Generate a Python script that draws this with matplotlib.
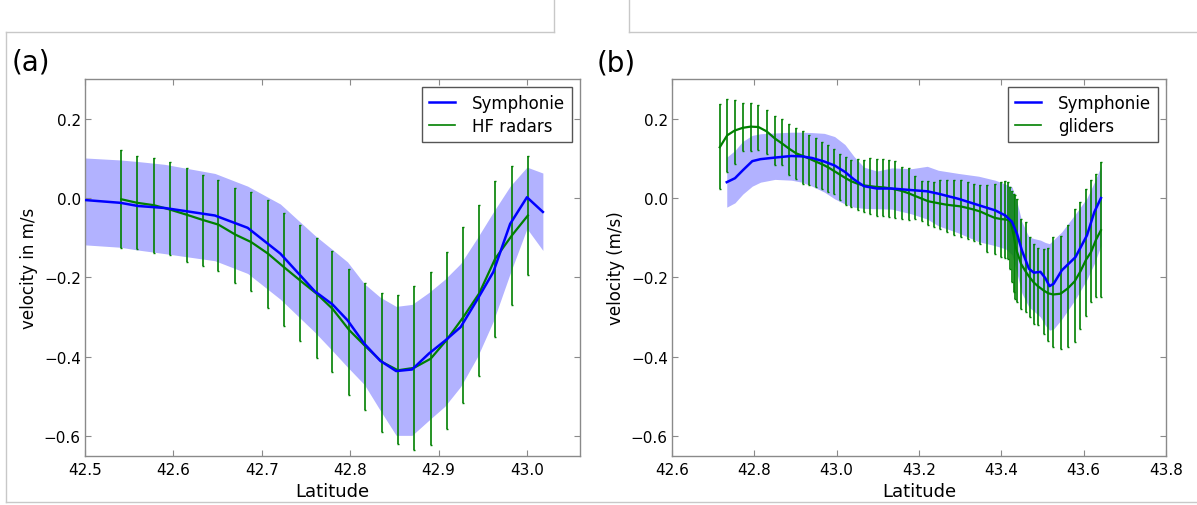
import matplotlib
matplotlib.use("Agg")
import matplotlib.pyplot as plt
from matplotlib.lines import Line2D
import numpy as np

# ---------------- Panel (a): Symphonie vs HF radars ----------------
a_sym_lat = [42.500, 42.540, 42.560, 42.590, 42.647, 42.684, 42.721, 42.760, 42.780,
             42.797, 42.816, 42.834, 42.852, 42.870, 42.889, 42.907, 42.925, 42.944,
             42.962, 42.981, 43.000, 43.018]
a_sym_vel = [-0.005, -0.012, -0.020, -0.025, -0.044, -0.075, -0.140, -0.235, -0.268,
             -0.308, -0.367, -0.410, -0.436, -0.432, -0.392, -0.360, -0.325, -0.255,
             -0.186, -0.065, 0.002, -0.035]
a_sym_hi = [0.101, 0.096, 0.092, 0.085, 0.062, 0.030, -0.015, -0.094, -0.130,
            -0.161, -0.216, -0.250, -0.273, -0.268, -0.238, -0.205, -0.165, -0.100,
            -0.035, 0.030, 0.078, 0.063]
a_sym_lo = [-0.118, -0.124, -0.131, -0.140, -0.158, -0.190, -0.255, -0.338, -0.385,
            -0.426, -0.470, -0.535, -0.598, -0.598, -0.560, -0.525, -0.475, -0.400,
            -0.310, -0.190, -0.077, -0.132]

a_hf_lat = [42.541, 42.559, 42.578, 42.596, 42.615, 42.633, 42.651, 42.670, 42.688,
            42.707, 42.725, 42.743, 42.762, 42.780, 42.799, 42.817, 42.836, 42.854,
            42.872, 42.891, 42.909, 42.928, 42.946, 42.964, 42.983, 43.001]
a_hf_vel = [-0.003, -0.012, -0.018, -0.029, -0.042, -0.055, -0.067, -0.092, -0.111,
            -0.140, -0.174, -0.207, -0.241, -0.279, -0.333, -0.373, -0.413, -0.434,
            -0.428, -0.405, -0.358, -0.300, -0.240, -0.153, -0.094, -0.044]
a_hf_top = [0.120, 0.106, 0.101, 0.091, 0.076, 0.059, 0.045, 0.025, 0.015,
            -0.006, -0.038, -0.067, -0.100, -0.133, -0.178, -0.213, -0.238, -0.244,
            -0.221, -0.187, -0.137, -0.073, -0.018, 0.042, 0.082, 0.107]
a_hf_bot = [-0.126, -0.128, -0.138, -0.144, -0.160, -0.172, -0.185, -0.213, -0.235,
            -0.277, -0.322, -0.361, -0.403, -0.438, -0.497, -0.535, -0.590, -0.620,
            -0.636, -0.622, -0.581, -0.516, -0.448, -0.350, -0.269, -0.195]

# ---------------- Panel (b): Symphonie vs gliders ----------------
b_sym_lat = [42.733, 42.753, 42.772, 42.795, 42.815, 42.850, 42.890, 42.915, 42.940,
             42.970, 42.995, 43.020, 43.042, 43.066, 43.098, 43.134, 43.182, 43.220,
             43.247, 43.296, 43.345, 43.385, 43.410, 43.426, 43.438, 43.450, 43.467,
             43.479, 43.495, 43.507, 43.517, 43.527, 43.547, 43.580, 43.608, 43.626,
             43.642]
b_sym_vel = [0.040, 0.050, 0.070, 0.093, 0.098, 0.102, 0.106, 0.105, 0.101,
             0.092, 0.082, 0.066, 0.047, 0.030, 0.024, 0.024, 0.020, 0.017,
             0.011, -0.002, -0.018, -0.031, -0.044, -0.060, -0.090, -0.132, -0.178,
             -0.188, -0.186, -0.202, -0.222, -0.216, -0.182, -0.149, -0.094, -0.035,
             0.000]
b_sym_hi = [0.103, 0.120, 0.143, 0.158, 0.162, 0.164, 0.166, 0.166, 0.165,
            0.163, 0.155, 0.135, 0.105, 0.078, 0.068, 0.076, 0.074, 0.080,
            0.070, 0.062, 0.055, 0.045, 0.035, 0.028, -0.010, -0.060, -0.098,
            -0.102, -0.106, -0.112, -0.115, -0.105, -0.085, -0.040, 0.000, 0.040,
            0.080]
b_sym_lo = [-0.023, -0.012, 0.010, 0.030, 0.040, 0.047, 0.045, 0.040, 0.030,
            0.015, -0.002, -0.015, -0.023, -0.026, -0.027, -0.028, -0.040, -0.053,
            -0.070, -0.088, -0.110, -0.120, -0.128, -0.143, -0.190, -0.240, -0.275,
            -0.285, -0.300, -0.321, -0.333, -0.330, -0.305, -0.255, -0.205, -0.165,
            -0.120]

b_gl_lat = [42.716, 42.734, 42.752, 42.772, 42.791, 42.810, 42.830, 42.850, 42.868,
            42.885, 42.901, 42.918, 42.934, 42.949, 42.965, 42.980, 42.994, 43.008,
            43.022, 43.036, 43.051, 43.066, 43.081, 43.097, 43.113, 43.127, 43.141,
            43.158, 43.175, 43.191, 43.208, 43.222, 43.237, 43.252, 43.268, 43.285,
            43.301, 43.318, 43.333, 43.349, 43.366, 43.384, 43.400, 43.410, 43.416,
            43.422, 43.426, 43.431, 43.434, 43.438, 43.448, 43.459, 43.469, 43.479,
            43.490, 43.503, 43.514, 43.526, 43.544, 43.561, 43.578, 43.592, 43.606,
            43.618, 43.630, 43.642]
b_gl_vel = [0.128, 0.158, 0.170, 0.177, 0.180, 0.179, 0.168, 0.150, 0.137,
            0.124, 0.113, 0.106, 0.099, 0.092, 0.085, 0.077, 0.068, 0.059,
            0.050, 0.042, 0.036, 0.032, 0.030, 0.028, 0.027, 0.025, 0.022,
            0.018, 0.012, 0.005, -0.002, -0.008, -0.011, -0.014, -0.017, -0.019,
            -0.021, -0.025, -0.029, -0.034, -0.042, -0.050, -0.053, -0.054, -0.055,
            -0.060, -0.075, -0.100, -0.120, -0.135, -0.166, -0.185, -0.200, -0.213,
            -0.223, -0.233, -0.240, -0.243, -0.241, -0.228, -0.210, -0.185, -0.155,
            -0.136, -0.105, -0.081]
b_gl_top = [0.238, 0.249, 0.247, 0.240, 0.240, 0.235, 0.221, 0.207, 0.198,
            0.187, 0.176, 0.168, 0.158, 0.151, 0.141, 0.133, 0.123, 0.112,
            0.103, 0.095, 0.099, 0.097, 0.101, 0.099, 0.099, 0.095, 0.093,
            0.078, 0.076, 0.055, 0.042, 0.042, 0.040, 0.045, 0.045, 0.045,
            0.045, 0.040, 0.036, 0.034, 0.034, 0.036, 0.040, 0.042, 0.040,
            0.028, 0.019, 0.011, 0.007, -0.002, -0.052, -0.060, -0.098, -0.115,
            -0.126, -0.128, -0.126, -0.098, -0.096, -0.069, -0.027, -0.010, 0.024,
            0.045, 0.061, 0.091]
b_gl_bot = [0.024, 0.065, 0.085, 0.118, 0.118, 0.120, 0.112, 0.084, 0.084,
            0.057, 0.049, 0.036, 0.034, 0.028, 0.024, 0.015, 0.011, -0.006,
            -0.017, -0.023, -0.031, -0.035, -0.039, -0.044, -0.044, -0.048, -0.050,
            -0.052, -0.055, -0.052, -0.059, -0.069, -0.073, -0.077, -0.086, -0.092,
            -0.098, -0.102, -0.107, -0.115, -0.136, -0.140, -0.149, -0.151, -0.153,
            -0.178, -0.212, -0.237, -0.254, -0.262, -0.279, -0.287, -0.300, -0.317,
            -0.321, -0.342, -0.359, -0.375, -0.380, -0.375, -0.363, -0.330, -0.296,
            -0.262, -0.249, -0.249]

yticks = [-0.6, -0.4, -0.2, 0.0, 0.2]
a_xticks = [42.5, 42.6, 42.7, 42.8, 42.9, 43.0]
b_xticks = [42.6, 42.8, 43.0, 43.2, 43.4, 43.6, 43.8]

plt.rcParams['font.family'] = ['DejaVu Sans']
plt.rcParams['axes.unicode_minus'] = True

W, H = 1197, 506
fig = plt.figure(figsize=(W / 100, H / 100), dpi=100)

SPINE = '#8a8a8a'


def style_axes(ax):
    for s in ax.spines.values():
        s.set_color(SPINE)
        s.set_linewidth(1.0)
    ax.tick_params(direction='in', top=True, right=True, length=4, width=0.8,
                   color=SPINE, labelsize=11)
    ax.tick_params(axis='x', pad=4)
    ax.tick_params(axis='y', pad=3)


def panel(ax, sl, sv, shi, slo, gl, gv, gt, gb, glabel, ylabel, xlim, xticks):
    ax.fill_between(sl, slo, shi, color='blue', alpha=0.3, linewidth=0, zorder=1)
    gv_a = np.asarray(gv)
    yerr = [gv_a - np.asarray(gb), np.asarray(gt) - gv_a]
    ax.errorbar(gl, gv, yerr=yerr, fmt='-', color='g', ecolor='g', lw=1.6,
                elinewidth=1.2, capsize=1, capthick=1.0, zorder=2)
    ax.plot(sl, sv, color='b', lw=1.8, zorder=3)
    ax.set_xlim(*xlim)
    ax.set_ylim(-0.65, 0.3)
    ax.set_xticks(xticks)
    ax.set_xticklabels([f"{t:.1f}" for t in xticks])
    ax.set_yticks(yticks)
    ax.set_yticklabels([f"{t:.1f}".replace('-', '\u2212') for t in yticks])
    ax.set_xlabel('Latitude', fontsize=13, labelpad=4)
    ax.set_ylabel(ylabel, fontsize=12, labelpad=4)
    h_sym = Line2D([], [], color='b', lw=1.8)
    h_g = Line2D([], [], color='g', lw=1.2)
    leg = ax.legend([h_sym, h_g], ['Symphonie', glabel], loc='upper right',
                    fontsize=12, fancybox=False, framealpha=1, borderaxespad=0.5,
                    handlelength=1.6, handletextpad=1.0, borderpad=0.4,
                    labelspacing=0.3)
    leg.get_frame().set_edgecolor('#555555')
    leg.get_frame().set_linewidth(1.0)
    style_axes(ax)


axA = fig.add_axes([85 / W, 1 - 457 / H, 495 / W, 377 / H])
panel(axA, a_sym_lat, a_sym_vel, a_sym_hi, a_sym_lo,
      a_hf_lat, a_hf_vel, a_hf_top, a_hf_bot, 'HF radars', 'velocity in m/s',
      (42.5, 43.06), a_xticks)

axB = fig.add_axes([672 / W, 1 - 457 / H, 494 / W, 377 / H])
panel(axB, b_sym_lat, b_sym_vel, b_sym_hi, b_sym_lo,
      b_gl_lat, b_gl_vel, b_gl_top, b_gl_bot, 'gliders', 'velocity (m/s)',
      (42.6, 43.8), b_xticks)

fig.text(12 / W, 1 - 63 / H, '(a)', fontsize=20, ha='left', va='center')
fig.text(597 / W, 1 - 64 / H, '(b)', fontsize=20, ha='left', va='center')

# decorative frame lines of the original screenshot
BORDER = '#c8c8c8'
segs = [((6, 33), (554, 33)), ((554, 0), (554, 33)), ((6, 33), (6, 503)),
        ((629, 0), (629, 33)), ((629, 33), (1197, 33)), ((6, 503), (1197, 503))]
for (x0, y0), (x1, y1) in segs:
    fig.add_artist(Line2D([x0 / W, x1 / W], [1 - y0 / H, 1 - y1 / H],
                          transform=fig.transFigure, color=BORDER, lw=1.0))

fig.savefig('out.png', dpi=100)
